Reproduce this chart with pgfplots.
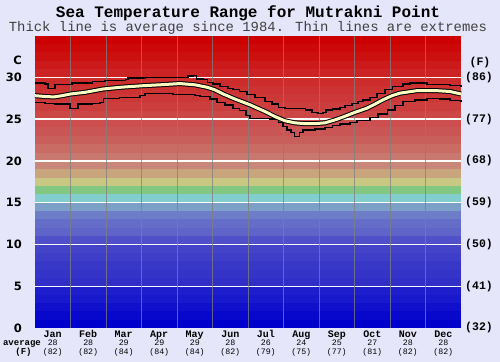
\documentclass[border=0pt]{standalone}
\usepackage{pgfplots}
\pgfplotsset{compat=1.18}
\usepackage{pgfplotstable}
\usepackage{fontspec}
\newfontfamily\mono{Liberation Mono}
\newfontfamily\sansf{DejaVu Sans}
\definecolor{bgcol}{RGB}{230,230,250}
\definecolor{yel}{RGB}{255,255,195}
\newcommand\band[5]{\addplot[draw=none,fill={rgb,255:red,#3;green,#4;blue,#5},forget plot] coordinates {(0,#1) (12,#1) (12,#2) (0,#2)};}
\newcommand\mlab[3]{%
  \node[font=\mono\bfseries\fontsize{10bp}{10bp}\selectfont,anchor=base] at ([yshift=-9.5bp]axis cs:#1,0) {#2};%
  \node[font=\mono\fontsize{8.3bp}{8.3bp}\selectfont,anchor=base] at ([yshift=-17.8bp]axis cs:#1,0) {#3};}
\newcommand\flab[2]{\node[font=\mono\fontsize{8.3bp}{8.3bp}\selectfont,anchor=base] at ([yshift=-26.3bp]axis cs:#1,0) {(#2)};}
\newcommand\rlab[2]{\node[font=\mono\bfseries\fontsize{11.5bp}{11.5bp}\selectfont,anchor=west,inner sep=0pt] at ([xshift=4bp]axis cs:12,#1) {(#2)};}

\pgfplotstableread{
m v
0.00 27.8
0.28 27.7
0.54 27.65
0.76 27.8
1.00 28.0
1.41 28.2
1.92 28.6
2.39 28.8
3.07 29.0
3.52 29.1
4.08 29.25
4.51 29.1
4.85 28.8
5.07 28.5
5.30 28.0
5.63 27.4
6.06 26.7
6.48 25.9
6.76 25.3
7.04 24.8
7.32 24.55
7.61 24.45
7.89 24.45
8.17 24.55
8.45 24.9
8.65 25.2
9.01 25.8
9.35 26.3
9.58 26.8
9.80 27.3
10.06 27.8
10.28 28.1
10.76 28.4
11.32 28.4
11.69 28.3
12.00 28.0
}\avgtab

\pgfplotstableread{
m v
0.00 29.3
0.28 29.2
0.37 28.7
0.51 28.7
0.56 29.1
0.93 29.1
1.04 29.3
1.55 29.3
1.61 29.5
1.92 29.5
1.97 29.65
2.54 29.7
2.62 29.9
2.96 29.9
3.10 30.0
4.23 30.0
4.31 30.15
4.45 30.2
4.54 29.8
4.73 29.7
4.85 29.4
5.01 29.2
5.21 28.9
5.44 28.7
5.58 28.5
5.77 28.3
5.97 27.9
6.20 27.6
6.48 27.1
6.68 26.8
6.85 26.4
7.04 26.3
7.46 26.3
7.61 26.1
7.80 25.8
7.97 25.7
8.11 25.8
8.20 26.1
8.39 26.2
8.59 26.4
8.73 26.6
8.93 26.9
9.10 27.1
9.24 27.3
9.44 27.6
9.63 28.1
9.86 28.5
10.08 28.9
10.37 29.2
10.56 29.3
11.04 29.15
11.41 29.1
11.69 29.0
12.00 28.9
}\maxtab

\pgfplotstableread{
m v
0.00 27.0
0.28 26.9
0.56 26.8
0.99 26.3
1.21 26.8
1.61 26.9
1.83 27.0
1.92 27.5
2.39 27.6
2.96 27.8
3.10 28.1
3.89 27.9
4.51 27.8
4.65 27.7
4.93 27.4
5.13 27.0
5.35 26.7
5.58 26.3
5.77 26.0
5.94 25.4
6.06 25.1
6.62 25.0
6.85 24.6
6.99 24.1
7.10 23.7
7.21 23.4
7.30 22.9
7.46 23.4
7.55 23.7
7.89 23.8
8.17 24.0
8.39 24.2
8.59 24.4
8.87 24.6
9.07 24.8
9.44 25.2
9.66 25.6
9.92 26.1
10.14 26.6
10.37 27.1
10.70 27.3
11.04 27.5
11.41 27.4
11.69 27.2
12.00 27.0
}\mintab

\begin{document}
\begin{tikzpicture}
\fill[bgcol] (0,0) rectangle (500bp,362bp);
\useasboundingbox (0,0) rectangle (500bp,362bp);
\node[font=\mono\bfseries\fontsize{16bp}{16bp}\selectfont] at (248bp,349bp) {Sea Temperature Range for Mutrakni Point};
\node[font=\mono\fontsize{13.9bp}{13.9bp}\selectfont,text=black!75] at (248bp,334bp) {Thick line is average since 1984. Thin lines are extremes};
\begin{axis}[
  at={(35bp,34bp)}, anchor=south west, scale only axis,
  width=426bp, height=292.5bp,
  xmin=0, xmax=12, ymin=0, ymax=35,
  clip=false,
  axis line style={draw=none}, tick style={draw=none},
  xtick=\empty,
  ytick={0,5,10,15,20,25,30},
  yticklabels={0,5,10,15,20,25,30},
  yticklabel style={font=\sansf\bfseries\fontsize{11.5bp}{11.5bp}\selectfont, anchor=east, inner sep=0pt, xshift=-13bp},
]
\band{0}{1}{0}{0}{204}
\band{1}{2}{8}{8}{204}
\band{2}{3}{16}{16}{204}
\band{3}{4}{24}{24}{204}
\band{4}{5}{30}{30}{204}
\band{5}{6}{48}{48}{200}
\band{6}{7}{52}{52}{200}
\band{7}{8}{56}{56}{200}
\band{8}{9}{62}{62}{200}
\band{9}{10}{68}{68}{200}
\band{10}{11}{80}{80}{200}
\band{11}{12}{95}{100}{200}
\band{12}{13}{100}{110}{200}
\band{13}{14}{110}{125}{200}
\band{14}{15}{125}{160}{200}
\band{15}{16}{130}{205}{205}
\band{16}{17}{130}{200}{130}
\band{17}{18}{200}{200}{130}
\band{18}{19}{200}{165}{125}
\band{19}{20}{200}{135}{120}
\band{20}{21}{200}{120}{110}
\band{21}{22}{200}{108}{100}
\band{22}{23}{200}{95}{90}
\band{23}{24}{202}{85}{85}
\band{24}{25}{204}{78}{78}
\band{25}{26}{204}{70}{70}
\band{26}{27}{204}{62}{62}
\band{27}{28}{204}{56}{56}
\band{28}{29}{204}{50}{50}
\band{29}{30}{204}{44}{44}
\band{30}{31}{204}{36}{36}
\band{31}{32}{204}{26}{26}
\band{32}{33}{204}{16}{16}
\band{33}{34}{204}{8}{8}
\band{34}{35}{204}{0}{0}
\pgfplotsinvokeforeach{5,10,15,20,25,30}{\addplot[white,line width=1.4bp,forget plot] coordinates {(0,#1) (12,#1)};}
\pgfplotsinvokeforeach{1,...,11}{\addplot[gray,opacity=0.75,line width=1bp,forget plot] coordinates {(#1,0) (#1,35)};}
\addplot[const plot, black, line width=1.3bp] table[x=m,y=v] {\maxtab};
\addplot[const plot, black, line width=1.3bp] table[x=m,y=v] {\mintab};
\addplot[black, line width=5bp] table[x=m,y=v] {\avgtab};
\addplot[yel, line width=3bp] table[x=m,y=v] {\avgtab};
\node[font=\sansf\bfseries\fontsize{11.5bp}{11.5bp}\selectfont,anchor=east,inner sep=0pt] at ([xshift=-13bp]axis cs:0,32) {C};
\node[font=\mono\bfseries\fontsize{11.5bp}{11.5bp}\selectfont,inner sep=0pt] at ([xshift=19bp]axis cs:12,31.8) {(F)};
\rlab{30}{86}
\rlab{25}{77}
\rlab{20}{68}
\rlab{15}{59}
\rlab{10}{50}
\rlab{5}{41}
\rlab{0}{32}
\mlab{0.5}{Jan}{28}\flab{0.5}{82}
\mlab{1.5}{Feb}{28}\flab{1.5}{82}
\mlab{2.5}{Mar}{29}\flab{2.5}{84}
\mlab{3.5}{Apr}{29}\flab{3.5}{84}
\mlab{4.5}{May}{29}\flab{4.5}{84}
\mlab{5.5}{Jun}{28}\flab{5.5}{82}
\mlab{6.5}{Jul}{26}\flab{6.5}{79}
\mlab{7.5}{Aug}{24}\flab{7.5}{75}
\mlab{8.5}{Sep}{25}\flab{8.5}{77}
\mlab{9.5}{Oct}{27}\flab{9.5}{81}
\mlab{10.5}{Nov}{28}\flab{10.5}{82}
\mlab{11.5}{Dec}{28}\flab{11.5}{82}
\node[font=\mono\bfseries\fontsize{9bp}{9bp}\selectfont,anchor=base,inner sep=0pt] at ([xshift=-13bp,yshift=-17.5bp]axis cs:0,0) {average};
\node[font=\mono\bfseries\fontsize{9bp}{9bp}\selectfont,anchor=base,inner sep=0pt] at ([xshift=-11.5bp,yshift=-26.3bp]axis cs:0,0) {(F)};
\end{axis}
\end{tikzpicture}
\end{document}
